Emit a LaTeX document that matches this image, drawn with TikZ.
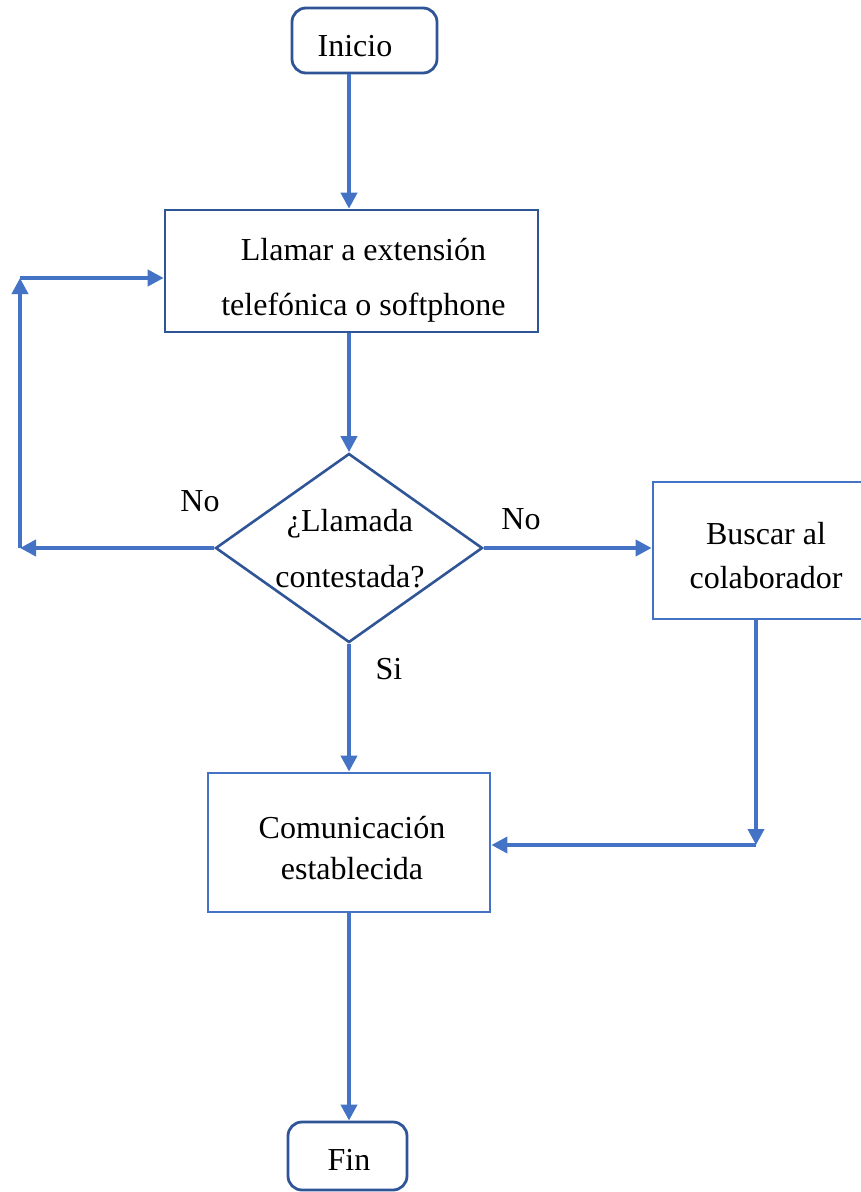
\documentclass[tikz,border=0pt]{standalone}
\usepackage{fontspec}
\setmainfont{Liberation Serif}
\usetikzlibrary{arrows.meta,shapes.geometric}
\definecolor{edgedark}{HTML}{2F5597}
\definecolor{flowblue}{HTML}{4472C4}
\begin{document}
\begin{tikzpicture}[x=1pt,y=-1pt,
  txt/.style={font=\fontsize{32}{38}\selectfont, inner sep=0pt, align=center},
  terminal/.style={draw=edgedark, line width=2.8pt, rounded corners=14pt, inner sep=0pt},
  stepbox/.style={draw=edgedark, line width=2.6pt, inner sep=0pt},
  lightbox/.style={draw=flowblue, line width=2.8pt, inner sep=0pt},
  decision/.style={draw=edgedark, line width=2.6pt, diamond, inner sep=0pt},
  flow/.style={draw=flowblue, line width=3.8pt, -{Triangle[length=16pt,width=16pt]}}]
\useasboundingbox (0,0) rectangle (860,1192);

% start and end terminals
\node[terminal, minimum width=145pt, minimum height=65pt] (inicio) at (364.5,40.5) {};
\node[txt] (inicioT) at (355,46) {Inicio};
\node[terminal, minimum width=119pt, minimum height=68pt] (fin) at (347.5,1156) {};
\node[txt] (finT) at (349,1160) {Fin};

% process boxes
\node[stepbox, minimum width=373pt, minimum height=122pt] (llamar) at (351.5,271) {};
\node[txt, font=\fontsize{32}{55}\selectfont] (llamarT) at (363.5,280) {Llamar a extensión\\telefónica o softphone};

\node[lightbox, minimum width=212pt, minimum height=137pt] (buscar) at (759,550.5) {};
\node[txt, font=\fontsize{32}{44}\selectfont] (buscarT) at (766,556) {Buscar al\\colaborador};

\node[lightbox, minimum width=282pt, minimum height=139pt] (comun) at (349,842.5) {};
\node[txt, font=\fontsize{32}{41}\selectfont] (comunT) at (352,848) {Comunicación\\establecida};

% decision
\node[decision, minimum width=267pt, minimum height=189pt] (dec) at (349,548) {};
\node[txt, font=\fontsize{32}{56}\selectfont] (decT) at (350,549) {¿Llamada\\contestada?};

% branch labels
\node[txt] (noL) at (200,501) {No};
\node[txt] (noR) at (521,519) {No};
\node[txt] (si) at (389,669) {Si};

% loop-back and join corners
\coordinate (cl) at (20,548);
\coordinate (cu) at (20,278);
\coordinate (cr) at (756,845);

% connectors
\draw[flow] (inicio.south -| 349,0) -- (llamar.north -| 349,0);
\draw[flow] (llamar.south -| 349,0) -- (dec.north);
\draw[flow] (dec.west) -- (cl);
\draw[flow] (cl) -- (cu);
\draw[flow] (cu) -- (cu -| llamar.west);
\draw[flow] (dec.east) -- (dec.east -| buscar.west);
\draw[flow] (dec.south) -- (comun.north -| 349,0);
\draw[flow] (buscar.south -| cr) -- (cr);
\draw[flow] (cr) -- (cr -| comun.east);
\draw[flow] (comun.south -| 349,0) -- (fin.north -| 349,0);
\end{tikzpicture}
\end{document}
